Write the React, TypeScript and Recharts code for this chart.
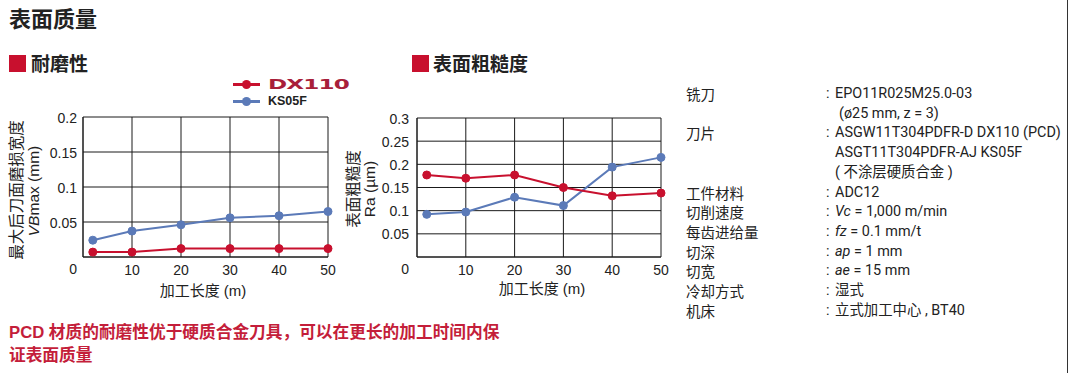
import React from 'react'
import { LineChart, Line, XAxis, YAxis, CartesianGrid } from 'recharts'

// 加工长度 (m)
const lengths = [2, 10, 20, 30, 40, 50]
const xTicks = [10, 20, 30, 40, 50]

// 耐磨性 VBmax (mm)
const wearDX110 = [0.007, 0.007, 0.012, 0.012, 0.012, 0.012]
const wearKS05F = [0.024, 0.037, 0.046, 0.056, 0.059, 0.065]
const wearTicks = [0, 0.05, 0.1, 0.15, 0.2]

// 表面粗糙度 Ra (µm)
const raDX110 = [0.177, 0.17, 0.177, 0.15, 0.132, 0.138]
const raKS05F = [0.092, 0.097, 0.129, 0.111, 0.194, 0.215]
const raTicks = [0, 0.05, 0.1, 0.15, 0.2, 0.25, 0.3]

const RED = '#c8102e'
const BLUE = '#5b7ab8'
const INK = '#222'
const FONT = '"Liberation Sans", "Noto Sans CJK SC", sans-serif'
const CJK = '"Noto Sans CJK SC", "Liberation Sans", sans-serif'
const SPEC = 'Roboto, "Noto Sans CJK SC", sans-serif'

const wearData = lengths.map((x, i) => ({ x, dx: wearDX110[i], ks: wearKS05F[i] }))
const raData = lengths.map((x, i) => ({ x, dx: raDX110[i], ks: raKS05F[i] }))

// [label, value, starts with colon, extra indent]
const specRows: [string, React.ReactNode, boolean, number][] = [
  ['铣刀', 'EPO11R025M25.0-03', true, 0],
  ['', '(ø25 mm, z = 3)', false, 4],
  ['刀片', 'ASGW11T304PDFR-D DX110 (PCD)', true, 0],
  ['', 'ASGT11T304PDFR-AJ KS05F', false, 0],
  ['', '( 不涂层硬质合金 )', false, 0],
  ['工件材料', 'ADC12', true, 0],
  ['切削速度', <><i>Vc</i> = 1,000 m/min</>, true, 0],
  ['每齿进给量', <><i>fz</i> = 0.1 mm/t</>, true, 0],
  ['切深', <><i>ap</i> = 1 mm</>, true, 0],
  ['切宽', <><i>ae</i> = 15 mm</>, true, 0],
  ['冷却方式', '湿式', true, 0],
  ['机床', '立式加工中心 , BT40', true, 0],
]

const YTick = (props: any) => {
  const { x, y, payload } = props
  const low = payload.value === 0
  return (
    <text x={x} y={low ? y + 11 : y} dy={5.5} textAnchor="end" fontSize={14} fill={INK} fontFamily={FONT}>
      {payload.value}
    </text>
  )
}

const XTick = (props: any) => {
  const { x, y, payload } = props
  return (
    <text x={x} y={y} dy={16} textAnchor="middle" fontSize={14} fill={INK} fontFamily={FONT}>
      {payload.value}
    </text>
  )
}

const Chart = ({ data, ticks, max, margin, tickGap }: any) => (
  <LineChart width={340} height={300} data={data} margin={margin}>
    <CartesianGrid stroke="#1a1a1a" strokeWidth={1} />
    <XAxis
      type="number"
      dataKey="x"
      domain={[0, 50]}
      ticks={xTicks}
      interval={0}
      height={30}
      tickSize={0}
      tickLine={false}
      axisLine={{ stroke: '#1a1a1a' }}
      tick={(p: any) => <XTick {...p} />}
    />
    <YAxis
      type="number"
      domain={[0, max]}
      ticks={ticks}
      interval={0}
      width={40}
      tickSize={0}
      tickMargin={tickGap}
      tickLine={false}
      axisLine={{ stroke: '#1a1a1a' }}
      tick={(p: any) => <YTick {...p} />}
    />
    <Line
      type="linear"
      dataKey="ks"
      stroke={BLUE}
      strokeWidth={2}
      dot={{ r: 4, fill: BLUE, stroke: BLUE, strokeWidth: 1 }}
      isAnimationActive={false}
    />
    <Line
      type="linear"
      dataKey="dx"
      stroke={RED}
      strokeWidth={2}
      dot={{ r: 4, fill: RED, stroke: RED, strokeWidth: 1 }}
      isAnimationActive={false}
    />
  </LineChart>
)

const abs = (left: number, top: number, extra: React.CSSProperties = {}): React.CSSProperties => ({
  position: 'absolute',
  left,
  top,
  whiteSpace: 'nowrap',
  ...extra,
})

export default function App() {
  return (
    <div style={{ position: 'absolute', left: 0, top: 0, width: 1072, height: 373, background: '#fff', overflow: 'hidden', fontFamily: FONT, color: INK }}>
      <div style={abs(9, 2, { fontFamily: CJK, fontSize: 22, fontWeight: 700, lineHeight: '30px' })}>表面质量</div>

      <div style={abs(9, 55, { width: 17, height: 17, background: RED })} />
      <div style={abs(31, 50, { fontFamily: CJK, fontSize: 19, fontWeight: 700, lineHeight: '26px' })}>耐磨性</div>
      <div style={abs(412, 55, { width: 17, height: 17, background: RED })} />
      <div style={abs(433, 50, { fontFamily: CJK, fontSize: 19, fontWeight: 700, lineHeight: '26px' })}>表面粗糙度</div>

      {/* legend */}
      <div style={abs(233, 83, { width: 27, height: 3, background: RED })} />
      <div style={abs(242, 80, { width: 9, height: 9, borderRadius: 5, background: RED })} />
      <div style={abs(268, 76, { fontFamily: '"DejaVu Sans", sans-serif', fontSize: 14, fontWeight: 900, lineHeight: '16px', color: '#a81e3a', transform: 'scaleX(1.65)', transformOrigin: 'left center', letterSpacing: -0.5 })}>DX110</div>
      <div style={abs(233, 100, { width: 27, height: 3, background: BLUE })} />
      <div style={abs(242, 97, { width: 9, height: 9, borderRadius: 5, background: BLUE })} />
      <div style={abs(268, 94, { fontSize: 12.5, fontWeight: 700, lineHeight: '15px' })}>KS05F</div>

      <div style={abs(0, 0)}>
        <Chart data={wearData} ticks={wearTicks} max={0.2} tickGap={6} margin={{ top: 117, right: 12, bottom: 13, left: 43 }} />
      </div>
      <div style={abs(340, 0)}>
        <Chart data={raData} ticks={raTicks} max={0.3} tickGap={8} margin={{ top: 118, right: 19, bottom: 13, left: 37 }} />
      </div>

      {/* axis titles */}
      <svg width={1072} height={373} style={{ position: 'absolute', left: 0, top: 0, pointerEvents: 'none' }}>
        <g fill={INK} textAnchor="middle" dominantBaseline="central">
          <text transform="translate(15,190) rotate(-90)" fontFamily={CJK} fontSize={15.5}>最大后刀面磨损宽度</text>
          <text transform="translate(33,191) rotate(-90)" fontFamily={FONT} fontSize={15.5}>
            <tspan fontStyle="italic">VB</tspan>max (mm)
          </text>
          <text transform="translate(352,189) rotate(-90)" fontFamily={CJK} fontSize={15.5}>表面粗糙度</text>
          <text transform="translate(369,189) rotate(-90)" fontFamily={FONT} fontSize={15.5}>Ra (µm)</text>
          <text x={203} y={290} fontFamily={FONT} fontSize={15}>加工长度 (m)</text>
          <text x={542} y={288} fontFamily={FONT} fontSize={15}>加工长度 (m)</text>
        </g>
      </svg>

      {/* test conditions */}
      <div style={abs(686, 84, { fontFamily: SPEC, fontSize: 14.4, lineHeight: '19.73px' })}>
        {specRows.map(([label, value, lead, indent], i) => (
          <div key={i} style={{ position: 'relative', height: 19.73 }}>
            <span style={{ position: 'absolute', left: 0, fontFamily: CJK, fontSize: 14.5 }}>{label}</span>
            {lead ? <span style={{ position: 'absolute', left: 140 }}>:</span> : null}
            <span style={{ position: 'absolute', left: 149 + indent }}>{value}</span>
          </div>
        ))}
      </div>

      <div style={{ position: 'absolute', left: 1067, top: 0, width: 1, height: 373, background: '#333' }} />

      <div style={abs(9, 321, { fontFamily: FONT, fontSize: 16.7, fontWeight: 700, lineHeight: '23px', color: '#c41e3a' })}>
        PCD 材质的耐磨性优于硬质合金刀具，可以在更长的加工时间内保
        <br />
        证表面质量
      </div>
    </div>
  )
}
